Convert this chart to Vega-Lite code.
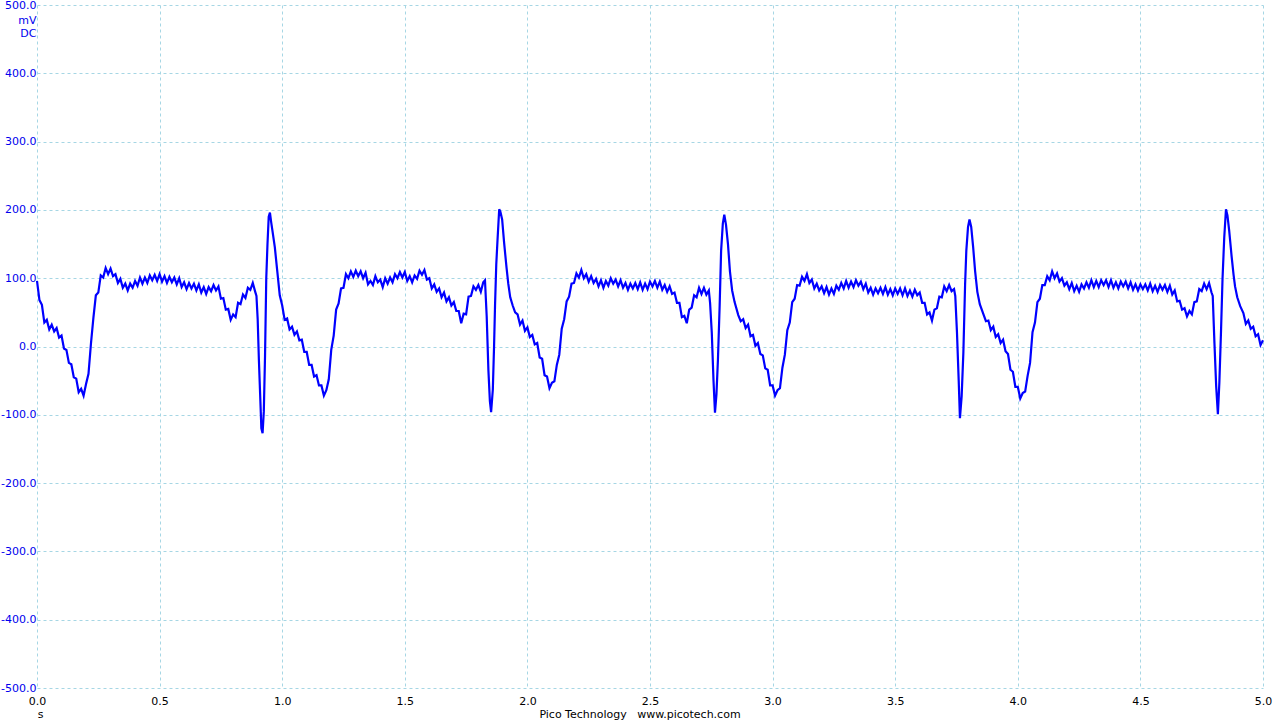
{
"$schema": "https://vega.github.io/schema/vega-lite/v6.json",
"width": 1226, "height": 683,
"autosize": {"type": "none"},
"padding": {"left": 37, "top": 5, "right": 17, "bottom": 32},
"background": "white",
"config": {"view": {"stroke": null}, "font": "DejaVu Sans"},
"title": {"text": "Pico Technology\u00a0\u00a0\u00a0www.picotech.com", "orient": "bottom", "anchor": "middle", "frame": "group", "dx": -10, "offset": -10, "fontSize": 11, "fontWeight": "normal", "color": "#000000", "font": "DejaVu Sans"},
"data": {"values": [
{"t":0.00,"v":96},{"t":0.01,"v":68},{"t":0.02,"v":61},{"t":0.03,"v":35},{"t":0.04,"v":39},{"t":0.05,"v":25},{"t":0.06,"v":32},{"t":0.07,"v":22},{"t":0.08,"v":27},{"t":0.09,"v":13},
{"t":0.10,"v":16},{"t":0.11,"v":-3},{"t":0.12,"v":-5},{"t":0.13,"v":-24},{"t":0.14,"v":-26},{"t":0.15,"v":-45},{"t":0.16,"v":-47},{"t":0.17,"v":-67},{"t":0.18,"v":-62},{"t":0.19,"v":-72},
{"t":0.20,"v":-55},{"t":0.21,"v":-40},{"t":0.22,"v":4},{"t":0.23,"v":42},{"t":0.24,"v":75},{"t":0.25,"v":79},{"t":0.26,"v":104},{"t":0.27,"v":101},{"t":0.28,"v":115},{"t":0.29,"v":106},
{"t":0.30,"v":114},{"t":0.31,"v":103},{"t":0.32,"v":106},{"t":0.33,"v":93},{"t":0.34,"v":99},{"t":0.35,"v":86},{"t":0.36,"v":92},{"t":0.37,"v":82},{"t":0.38,"v":92},{"t":0.39,"v":86},
{"t":0.40,"v":96},{"t":0.41,"v":89},{"t":0.42,"v":101},{"t":0.43,"v":92},{"t":0.44,"v":101},{"t":0.45,"v":93},{"t":0.46,"v":104},{"t":0.47,"v":97},{"t":0.48,"v":105},{"t":0.49,"v":96},
{"t":0.50,"v":106},{"t":0.51,"v":95},{"t":0.52,"v":103},{"t":0.53,"v":93},{"t":0.54,"v":102},{"t":0.55,"v":94},{"t":0.56,"v":101},{"t":0.57,"v":91},{"t":0.58,"v":100},{"t":0.59,"v":87},
{"t":0.60,"v":94},{"t":0.61,"v":84},{"t":0.62,"v":93},{"t":0.63,"v":85},{"t":0.64,"v":92},{"t":0.65,"v":82},{"t":0.66,"v":91},{"t":0.67,"v":79},{"t":0.68,"v":87},{"t":0.69,"v":77},
{"t":0.70,"v":87},{"t":0.71,"v":81},{"t":0.72,"v":90},{"t":0.73,"v":82},{"t":0.74,"v":88},{"t":0.75,"v":70},{"t":0.76,"v":71},{"t":0.77,"v":54},{"t":0.78,"v":55},{"t":0.79,"v":39},
{"t":0.80,"v":47},{"t":0.81,"v":43},{"t":0.82,"v":64},{"t":0.83,"v":62},{"t":0.84,"v":76},{"t":0.85,"v":71},{"t":0.86,"v":86},{"t":0.87,"v":83},{"t":0.88,"v":93},{"t":0.89,"v":80},
{"t":0.895,"v":74},{"t":0.90,"v":40},{"t":0.905,"v":-20},{"t":0.91,"v":-70},{"t":0.915,"v":-120},{"t":0.92,"v":-127},{"t":0.925,"v":-95},{"t":0.93,"v":-14},{"t":0.935,"v":100},{"t":0.94,"v":150},
{"t":0.945,"v":190},{"t":0.95,"v":196},{"t":0.955,"v":182},{"t":0.96,"v":170},{"t":0.97,"v":145},{"t":0.98,"v":110},{"t":0.99,"v":75},
{"t":1.00,"v":60},{"t":1.01,"v":39},{"t":1.02,"v":41},{"t":1.03,"v":25},{"t":1.04,"v":29},{"t":1.05,"v":17},{"t":1.06,"v":22},{"t":1.07,"v":9},{"t":1.08,"v":10},{"t":1.09,"v":-8},
{"t":1.10,"v":-8},{"t":1.11,"v":-27},{"t":1.12,"v":-27},{"t":1.13,"v":-44},{"t":1.14,"v":-42},{"t":1.15,"v":-57},{"t":1.16,"v":-57},{"t":1.17,"v":-72},{"t":1.18,"v":-64},{"t":1.19,"v":-48},
{"t":1.20,"v":-5},{"t":1.21,"v":16},{"t":1.22,"v":54},{"t":1.23,"v":63},{"t":1.24,"v":85},{"t":1.25,"v":86},{"t":1.26,"v":106},{"t":1.27,"v":100},{"t":1.28,"v":110},{"t":1.29,"v":102},
{"t":1.30,"v":111},{"t":1.31,"v":103},{"t":1.32,"v":110},{"t":1.33,"v":100},{"t":1.34,"v":108},{"t":1.35,"v":91},{"t":1.36,"v":96},{"t":1.37,"v":90},{"t":1.38,"v":103},{"t":1.39,"v":94},
{"t":1.40,"v":98},{"t":1.41,"v":87},{"t":1.42,"v":100},{"t":1.43,"v":92},{"t":1.44,"v":101},{"t":1.45,"v":94},{"t":1.46,"v":106},{"t":1.47,"v":100},{"t":1.48,"v":109},{"t":1.49,"v":101},
{"t":1.50,"v":109},{"t":1.51,"v":96},{"t":1.52,"v":103},{"t":1.53,"v":94},{"t":1.54,"v":104},{"t":1.55,"v":99},{"t":1.56,"v":111},{"t":1.57,"v":105},{"t":1.58,"v":112},{"t":1.59,"v":98},
{"t":1.60,"v":100},{"t":1.61,"v":85},{"t":1.62,"v":91},{"t":1.63,"v":80},{"t":1.64,"v":85},{"t":1.65,"v":72},{"t":1.66,"v":79},{"t":1.67,"v":66},{"t":1.68,"v":72},{"t":1.69,"v":60},
{"t":1.70,"v":65},{"t":1.71,"v":52},{"t":1.72,"v":52},{"t":1.73,"v":34},{"t":1.74,"v":48},{"t":1.75,"v":47},{"t":1.76,"v":73},{"t":1.77,"v":74},{"t":1.78,"v":88},{"t":1.79,"v":83},
{"t":1.80,"v":90},{"t":1.81,"v":80},{"t":1.82,"v":94},
{"t":1.827,"v":97},{"t":1.834,"v":44},{"t":1.841,"v":-35},{"t":1.847,"v":-80},{"t":1.852,"v":-96},{"t":1.859,"v":-63},{"t":1.864,"v":0},{"t":1.868,"v":60},{"t":1.873,"v":120},{"t":1.878,"v":155},
{"t":1.885,"v":201},{"t":1.89,"v":197},{"t":1.897,"v":186},{"t":1.905,"v":152},{"t":1.915,"v":115},{"t":1.922,"v":92},{"t":1.93,"v":72},{"t":1.94,"v":60},{"t":1.95,"v":50},
{"t":1.96,"v":47},{"t":1.97,"v":32},{"t":1.98,"v":38},{"t":1.99,"v":23},
{"t":2.00,"v":28},{"t":2.01,"v":14},{"t":2.02,"v":17},{"t":2.03,"v":3},{"t":2.04,"v":5},{"t":2.05,"v":-16},{"t":2.06,"v":-18},{"t":2.07,"v":-42},{"t":2.08,"v":-44},{"t":2.09,"v":-61},
{"t":2.10,"v":-53},{"t":2.11,"v":-51},{"t":2.12,"v":-27},{"t":2.13,"v":-12},{"t":2.14,"v":26},{"t":2.15,"v":40},{"t":2.16,"v":66},{"t":2.17,"v":73},{"t":2.18,"v":92},{"t":2.19,"v":93},
{"t":2.20,"v":107},{"t":2.21,"v":101},{"t":2.22,"v":112},{"t":2.23,"v":100},{"t":2.24,"v":106},{"t":2.25,"v":95},{"t":2.26,"v":103},{"t":2.27,"v":93},{"t":2.28,"v":99},{"t":2.29,"v":88},
{"t":2.30,"v":97},{"t":2.31,"v":86},{"t":2.32,"v":96},{"t":2.33,"v":89},{"t":2.34,"v":100},{"t":2.35,"v":92},{"t":2.36,"v":98},{"t":2.37,"v":88},{"t":2.38,"v":97},{"t":2.39,"v":86},
{"t":2.40,"v":93},{"t":2.41,"v":83},{"t":2.42,"v":92},{"t":2.43,"v":85},{"t":2.44,"v":93},{"t":2.45,"v":84},{"t":2.46,"v":94},{"t":2.47,"v":83},{"t":2.48,"v":92},{"t":2.49,"v":84},
{"t":2.50,"v":95},{"t":2.51,"v":88},{"t":2.52,"v":96},{"t":2.53,"v":86},{"t":2.54,"v":95},{"t":2.55,"v":83},{"t":2.56,"v":90},{"t":2.57,"v":80},{"t":2.58,"v":88},{"t":2.59,"v":77},
{"t":2.60,"v":79},{"t":2.61,"v":64},{"t":2.62,"v":64},{"t":2.63,"v":43},{"t":2.64,"v":45},{"t":2.65,"v":34},{"t":2.66,"v":54},{"t":2.67,"v":57},{"t":2.68,"v":75},{"t":2.69,"v":72},
{"t":2.70,"v":86},{"t":2.71,"v":77},{"t":2.72,"v":86},{"t":2.73,"v":76},{"t":2.74,"v":82},
{"t":2.745,"v":64},{"t":2.752,"v":20},{"t":2.759,"v":-50},{"t":2.765,"v":-97},{"t":2.771,"v":-70},{"t":2.777,"v":-20},{"t":2.784,"v":59},{"t":2.79,"v":140},{"t":2.797,"v":180},{"t":2.803,"v":193},
{"t":2.81,"v":178},{"t":2.818,"v":150},{"t":2.826,"v":110},{"t":2.835,"v":82},{"t":2.845,"v":65},{"t":2.86,"v":46},
{"t":2.87,"v":37},{"t":2.88,"v":40},{"t":2.89,"v":27},{"t":2.90,"v":32},{"t":2.91,"v":15},{"t":2.92,"v":17},{"t":2.93,"v":1},{"t":2.94,"v":5},{"t":2.95,"v":-11},{"t":2.96,"v":-13},
{"t":2.97,"v":-32},{"t":2.98,"v":-34},{"t":2.99,"v":-57},{"t":3.00,"v":-57},{"t":3.01,"v":-72},{"t":3.02,"v":-64},{"t":3.03,"v":-61},{"t":3.04,"v":-31},{"t":3.05,"v":-12},{"t":3.06,"v":24},
{"t":3.07,"v":35},{"t":3.08,"v":65},{"t":3.09,"v":70},{"t":3.10,"v":90},{"t":3.11,"v":89},{"t":3.12,"v":102},{"t":3.13,"v":96},{"t":3.14,"v":106},{"t":3.15,"v":93},{"t":3.16,"v":98},
{"t":3.17,"v":85},{"t":3.18,"v":92},{"t":3.19,"v":82},{"t":3.20,"v":88},{"t":3.21,"v":78},{"t":3.22,"v":87},{"t":3.23,"v":76},{"t":3.24,"v":85},{"t":3.25,"v":77},{"t":3.26,"v":89},
{"t":3.27,"v":83},{"t":3.28,"v":93},{"t":3.29,"v":85},{"t":3.30,"v":96},{"t":3.31,"v":86},{"t":3.32,"v":95},{"t":3.33,"v":87},{"t":3.34,"v":97},{"t":3.35,"v":89},{"t":3.36,"v":95},
{"t":3.37,"v":84},{"t":3.38,"v":92},{"t":3.39,"v":79},{"t":3.40,"v":86},{"t":3.41,"v":76},{"t":3.42,"v":85},{"t":3.43,"v":78},{"t":3.44,"v":86},{"t":3.45,"v":77},{"t":3.46,"v":87},
{"t":3.47,"v":76},{"t":3.48,"v":84},{"t":3.49,"v":75},{"t":3.50,"v":85},{"t":3.51,"v":77},{"t":3.52,"v":85},{"t":3.53,"v":75},{"t":3.54,"v":85},{"t":3.55,"v":74},{"t":3.56,"v":82},
{"t":3.57,"v":73},{"t":3.58,"v":83},{"t":3.59,"v":75},{"t":3.60,"v":79},{"t":3.61,"v":64},{"t":3.62,"v":64},{"t":3.63,"v":47},{"t":3.64,"v":50},{"t":3.65,"v":38},{"t":3.66,"v":54},
{"t":3.67,"v":56},{"t":3.68,"v":73},{"t":3.69,"v":72},{"t":3.70,"v":88},{"t":3.71,"v":81},{"t":3.72,"v":90},{"t":3.73,"v":81},{"t":3.74,"v":84},
{"t":3.745,"v":74},{"t":3.752,"v":20},{"t":3.759,"v":-50},{"t":3.764,"v":-105},{"t":3.771,"v":-73},{"t":3.778,"v":-9},{"t":3.785,"v":90},{"t":3.79,"v":140},{"t":3.797,"v":175},{"t":3.803,"v":186},
{"t":3.81,"v":175},{"t":3.818,"v":145},{"t":3.826,"v":110},{"t":3.835,"v":80},{"t":3.845,"v":62},{"t":3.86,"v":47},
{"t":3.87,"v":37},{"t":3.88,"v":38},{"t":3.89,"v":24},{"t":3.90,"v":29},{"t":3.91,"v":14},{"t":3.92,"v":18},{"t":3.93,"v":5},{"t":3.94,"v":10},{"t":3.95,"v":-7},{"t":3.96,"v":-11},
{"t":3.97,"v":-34},{"t":3.98,"v":-37},{"t":3.99,"v":-59},{"t":4.00,"v":-59},{"t":4.01,"v":-76},{"t":4.02,"v":-68},{"t":4.03,"v":-66},{"t":4.04,"v":-43},{"t":4.05,"v":-24},{"t":4.06,"v":21},
{"t":4.07,"v":35},{"t":4.08,"v":65},{"t":4.09,"v":70},{"t":4.10,"v":90},{"t":4.11,"v":90},{"t":4.12,"v":103},{"t":4.13,"v":97},{"t":4.14,"v":110},{"t":4.15,"v":100},{"t":4.16,"v":107},
{"t":4.17,"v":95},{"t":4.18,"v":100},{"t":4.19,"v":89},{"t":4.20,"v":94},{"t":4.21,"v":84},{"t":4.22,"v":93},{"t":4.23,"v":81},{"t":4.24,"v":89},{"t":4.25,"v":80},{"t":4.26,"v":91},
{"t":4.27,"v":85},{"t":4.28,"v":94},{"t":4.29,"v":86},{"t":4.30,"v":97},{"t":4.31,"v":87},{"t":4.32,"v":96},{"t":4.33,"v":87},{"t":4.34,"v":97},{"t":4.35,"v":90},{"t":4.36,"v":97},
{"t":4.37,"v":87},{"t":4.38,"v":97},{"t":4.39,"v":86},{"t":4.40,"v":94},{"t":4.41,"v":85},{"t":4.42,"v":95},{"t":4.43,"v":88},{"t":4.44,"v":95},{"t":4.45,"v":85},{"t":4.46,"v":94},
{"t":4.47,"v":83},{"t":4.48,"v":91},{"t":4.49,"v":82},{"t":4.50,"v":91},{"t":4.51,"v":84},{"t":4.52,"v":91},{"t":4.53,"v":82},{"t":4.54,"v":92},{"t":4.55,"v":81},{"t":4.56,"v":89},
{"t":4.57,"v":80},{"t":4.58,"v":90},{"t":4.59,"v":83},{"t":4.60,"v":90},{"t":4.61,"v":80},{"t":4.62,"v":89},{"t":4.63,"v":76},{"t":4.64,"v":82},{"t":4.65,"v":66},{"t":4.66,"v":67},
{"t":4.67,"v":54},{"t":4.68,"v":56},{"t":4.69,"v":44},{"t":4.70,"v":52},{"t":4.71,"v":47},{"t":4.72,"v":65},{"t":4.73,"v":66},{"t":4.74,"v":84},{"t":4.75,"v":81},{"t":4.76,"v":92},
{"t":4.77,"v":84},{"t":4.78,"v":93},{"t":4.79,"v":79},
{"t":4.795,"v":74},{"t":4.802,"v":5},{"t":4.809,"v":-58},{"t":4.816,"v":-99},{"t":4.822,"v":-53},{"t":4.829,"v":25},{"t":4.835,"v":100},{"t":4.842,"v":160},{"t":4.849,"v":201},{"t":4.855,"v":192},
{"t":4.862,"v":170},{"t":4.872,"v":132},{"t":4.88,"v":105},{"t":4.886,"v":88},{"t":4.895,"v":72},{"t":4.907,"v":59},
{"t":4.92,"v":49},{"t":4.93,"v":33},{"t":4.94,"v":38},{"t":4.95,"v":26},{"t":4.96,"v":29},{"t":4.97,"v":15},{"t":4.98,"v":18},{"t":4.99,"v":2},{"t":5.00,"v":9}
]},
"mark": {"type": "line", "color": "#0000ff", "strokeWidth": 2.2, "interpolate": "linear"},
"encoding": {
  "x": {"field": "t", "type": "quantitative", "sort": null,
    "scale": {"domain": [0, 5], "nice": false, "zero": false},
    "axis": {"values": [0, 0.5, 1, 1.5, 2, 2.5, 3, 3.5, 4, 4.5, 5], "format": ".1f", "grid": true, "gridColor": "#a6d6e4", "gridDash": [3, 3], "gridWidth": 1, "domain": false, "ticks": false,
      "labelColor": "#000000", "labelFont": "DejaVu Sans", "labelFontSize": 11, "labelPadding": 7, "labelFlush": false, "labelOverlap": false,
      "title": "s", "titleFont": "DejaVu Sans", "titleFontSize": 11, "titleFontWeight": "normal", "titleColor": "#000000", "titleX": 3, "titleY": 20, "titleAlign": "center", "titleBaseline": "top"}},
  "y": {"field": "v", "type": "quantitative",
    "scale": {"domain": [-500, 500], "nice": false, "zero": false},
    "axis": {"values": [-500, -400, -300, -200, -100, 0, 100, 200, 300, 400, 500], "labelExpr": "(datum.value < 0 ? '-' : '') + format(abs(datum.value), '.1f')", "grid": true, "gridColor": "#a6d6e4", "gridDash": [3, 3], "gridWidth": 1, "domain": false, "ticks": false,
      "labelColor": "#0000ee", "labelFont": "DejaVu Sans", "labelFontSize": 11, "labelPadding": 1, "labelFlush": false, "labelOverlap": false,
      "title": ["mV", "DC"], "titleFont": "DejaVu Sans", "titleFontSize": 11, "titleFontWeight": "normal", "titleColor": "#0000ee", "titleAngle": 0, "titleAlign": "right", "titleBaseline": "top", "titleX": -1, "titleY": 9, "titleLineHeight": 13}}
}
}
